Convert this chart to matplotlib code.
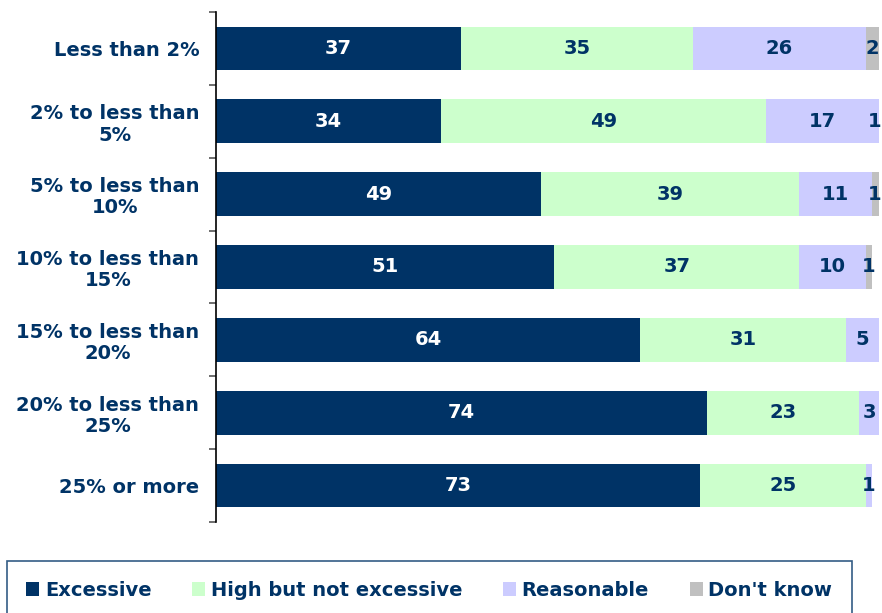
import numpy as np
import matplotlib
matplotlib.use("Agg")
from matplotlib import pyplot as plt
from matplotlib.patches import Patch

# survey answers by band, in percent
categories = ["Less than 2%", "2% to less than\n5%", "5% to less than\n10%",
              "10% to less than\n15%", "15% to less than\n20%",
              "20% to less than\n25%", "25% or more"]
excessive = [37, 34, 49, 51, 64, 74, 73]
high = [35, 49, 39, 37, 31, 23, 25]
reasonable = [26, 17, 11, 10, 5, 3, 1]
dont_know = [2, 1, 1, 1, 0, 0, 0]

series = [("Excessive", excessive, "#003366", "white"),
          ("High but not excessive", high, "#CCFFCC", "#003366"),
          ("Reasonable", reasonable, "#CCCCFF", "#003366"),
          ("Don't know", dont_know, "#C0C0C0", "#003366")]

navy = "#003366"
fs = 14
plt.rcParams['font.family'] = ['DejaVu Sans']

fig = plt.figure(figsize=(8.82, 6.13), dpi=100)
ax = fig.add_axes([216/882, 1-522/613, 663/882, 510/613])

y = np.arange(len(categories))
left = np.zeros(len(categories))
for name, vals, col, tcol in series:
    vals = np.array(vals, dtype=float)
    ax.barh(y, vals, left=left, height=0.6, color=col, edgecolor='none')
    for yi, (l, v) in enumerate(zip(left, vals)):
        if v > 0:
            # keep the thin end slivers' labels inside the frame
            ax.text(min(l + v/2, 99.3), yi, f"{int(v)}", ha='center', va='center',
                    color=tcol, fontsize=fs, fontweight='bold')
    left += vals

ax.set_xlim(0, 100)
ax.set_ylim(len(categories) - 0.5, -0.5)
ax.set_yticks(y)
ax.set_yticklabels(categories, fontsize=fs, fontweight='bold', color=navy,
                   ha='right', multialignment='center', linespacing=1.15)
ax.tick_params(axis='y', length=0, pad=12)
ax.set_yticks(np.arange(len(categories) + 1) - 0.5, minor=True)
ax.tick_params(axis='y', which='minor', length=5, width=1.2, color='#555555')
ax.set_xticks([])
for s in ['top', 'right', 'bottom']:
    ax.spines[s].set_visible(False)
ax.spines['left'].set_linewidth(1.2)

handles = [Patch(facecolor=c, edgecolor='none', label=n) for n, _, c, _ in series]
leg = fig.legend(handles=handles, loc='center left',
                 bbox_to_anchor=(7/882, 1-590/613),
                 ncol=4, frameon=True, fancybox=False, fontsize=fs,
                 handlelength=0.65, handleheight=0.7, handletextpad=0.3,
                 columnspacing=2.1, borderaxespad=0, borderpad=1.0)
leg.get_frame().set_edgecolor(navy)
leg.get_frame().set_linewidth(1.2)
for t in leg.get_texts():
    t.set_color(navy)
    t.set_fontweight('bold')

fig.savefig("out.png", dpi=100)
